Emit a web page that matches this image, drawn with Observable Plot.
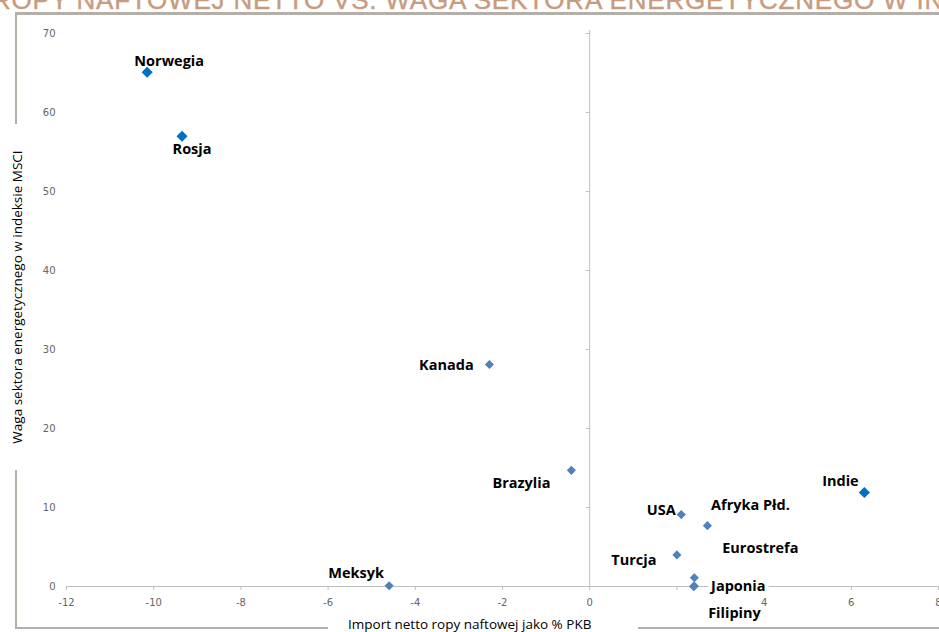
<!DOCTYPE html>
<html>
<head>
<meta charset="utf-8">
<script src="https://cdn.jsdelivr.net/npm/d3@7"></script>
<script src="https://cdn.jsdelivr.net/npm/@observablehq/plot@0.6"></script>
<style>
html,body{margin:0;padding:0;background:#fff;overflow:hidden;width:939px;height:632px;}
#wrap{position:relative;width:939px;height:632px;overflow:hidden;}
#frame{position:absolute;left:15px;top:12px;width:960px;height:612px;border-left:2px solid #b5afaa;border-top:3px solid #b5afaa;border-bottom:2px solid #b5afaa;}
#chart{position:absolute;left:0;top:0;}
#titlebar{position:absolute;left:0;top:0;}
#xtitle{position:absolute;left:328px;top:616px;width:290px;padding-left:20px;height:16px;line-height:16px;background:#fff;font-family:"Open Sans";font-size:13.5px;color:#000;white-space:nowrap;}
#ytitle{position:absolute;left:17px;top:297px;width:346px;height:16px;line-height:16px;background:#fff;font-family:"Open Sans";font-size:13.5px;color:#000;text-align:center;white-space:nowrap;transform:translate(-50%,-50%) rotate(-90deg);}
</style>
</head>
<body>
<div id="wrap">
  <div id="frame"></div>
  <div id="chart"></div>
  <svg id="titlebar" width="939" height="14"><text id="ttl" y="9" fill="#c99b7e" stroke="#c99b7e" stroke-width="0.4" font-family="Liberation Sans" font-size="26" letter-spacing="0.8"><tspan id="hidden">IMPORT </tspan><tspan>ROPY NAFTOWEJ NETTO VS. WAGA SEKTORA ENERGETYCZNEGO W INDEKSIE MSCI</tspan></text></svg>
  <div id="xtitle">Import netto ropy naftowej jako % PKB</div>
  <div id="ytitle">Waga sektora energetycznego w indeksie MSCI</div>
</div>
<script>
// ---- data ----
const names = ["Norwegia","Rosja","Kanada","Brazylia","Meksyk","USA","Afryka Płd.","Indie","Turcja","Eurostrefa","Japonia","Filipiny"];
const importNet = [-10.15,-9.35,-2.3,-0.42,-4.6,2.1,2.7,6.3,2.0,2.4,2.4,2.38];
const energyWeight = [65.1,57.0,28.1,14.7,0.1,9.1,7.7,11.9,4.0,1.1,0.05,0.0];
const highlighted = ["Norwegia","Rosja","Indie"];
const xTicks = [-12,-10,-8,-6,-4,-2,0,2,4,6,8];
const xTickLabels = ["-12","-10","-8","-6","-4","-2","0","","4","6","8"];
const yTicks = [0,10,20,30,40,50,60,70];
const yTickLabels = ["0","10","20","30","40","50","60","70"];

// ---- label layout (pixel offsets from each point) ----
const labelOffsets = {
  "Norwegia":[22,-11], "Rosja":[10,13], "Kanada":[-43,1], "Brazylia":[-50,13],
  "Meksyk":[-33,-12], "USA":[-20,-4], "Afryka Płd.":[43,-20], "Indie":[-24,-11],
  "Turcja":[-43,5], "Eurostrefa":[66,-29], "Japonia":[44,0], "Filipiny":[41,27]
};

const pts = names.map((n,i)=>({name:n, x:importNet[i], y:energyWeight[i]}));
const ptsHi = pts.filter(p=>highlighted.includes(p.name));
const ptsLo = pts.filter(p=>!highlighted.includes(p.name));

const leftTick = {draw(ctx){ ctx.moveTo(-4,0); ctx.lineTo(0,0); }};

const labelMarks = pts.map(p => Plot.text([p], {
  x:"x", y:"y", text:"name",
  dx: labelOffsets[p.name][0], dy: labelOffsets[p.name][1],
  fontFamily:"Open Sans", fontWeight:"bold", fontSize:14.5, fill:"#000",
  stroke:"#fff", strokeWidth:8, strokeLinejoin:"round"
}));

const chart = Plot.plot({
  width:939, height:632,
  marginLeft:66, marginRight:1, marginTop:33, marginBottom:46,
  style:{background:"transparent", fontFamily:"DejaVu Sans", overflow:"visible"},
  x:{domain:[-12,8]},
  y:{domain:[0,70]},
  marks:[
    Plot.ruleY([0], {stroke:"#bfbfbf"}),
    Plot.ruleX([0], {stroke:"#bfbfbf", y1:70, y2:0, insetTop:-3}),
    Plot.axisX({ticks:xTicks, tickFormat:d=>xTickLabels[xTicks.indexOf(d)], tickSize:4, tickPadding:8, stroke:"#bfbfbf", fill:"#666", fontSize:10, label:null}),
    Plot.axisY({ticks:yTicks, tickFormat:d=>yTickLabels[yTicks.indexOf(d)], tickSize:0, tickPadding:11, fill:"#666", fontSize:10, label:null}),
    Plot.dot(yTicks, {x:()=>0, y:d=>d, symbol:leftTick, stroke:"#bfbfbf", strokeWidth:1, fill:"none"}),
    ...labelMarks,
    Plot.dot(ptsLo, {x:"x", y:"y", symbol:"diamond2", r:4.1, fill:"#4f81bd", stroke:null}),
    Plot.dot(ptsHi, {x:"x", y:"y", symbol:"diamond2", r:5, fill:"#0070c0", stroke:null})
  ]
});
document.getElementById("chart").appendChild(chart);

// shift the title so that it is cut off like the reference
const hid = document.getElementById("hidden");
const w = hid.getComputedTextLength();
document.getElementById("ttl").setAttribute("x", -w - 8);
</script>
</body>
</html>
